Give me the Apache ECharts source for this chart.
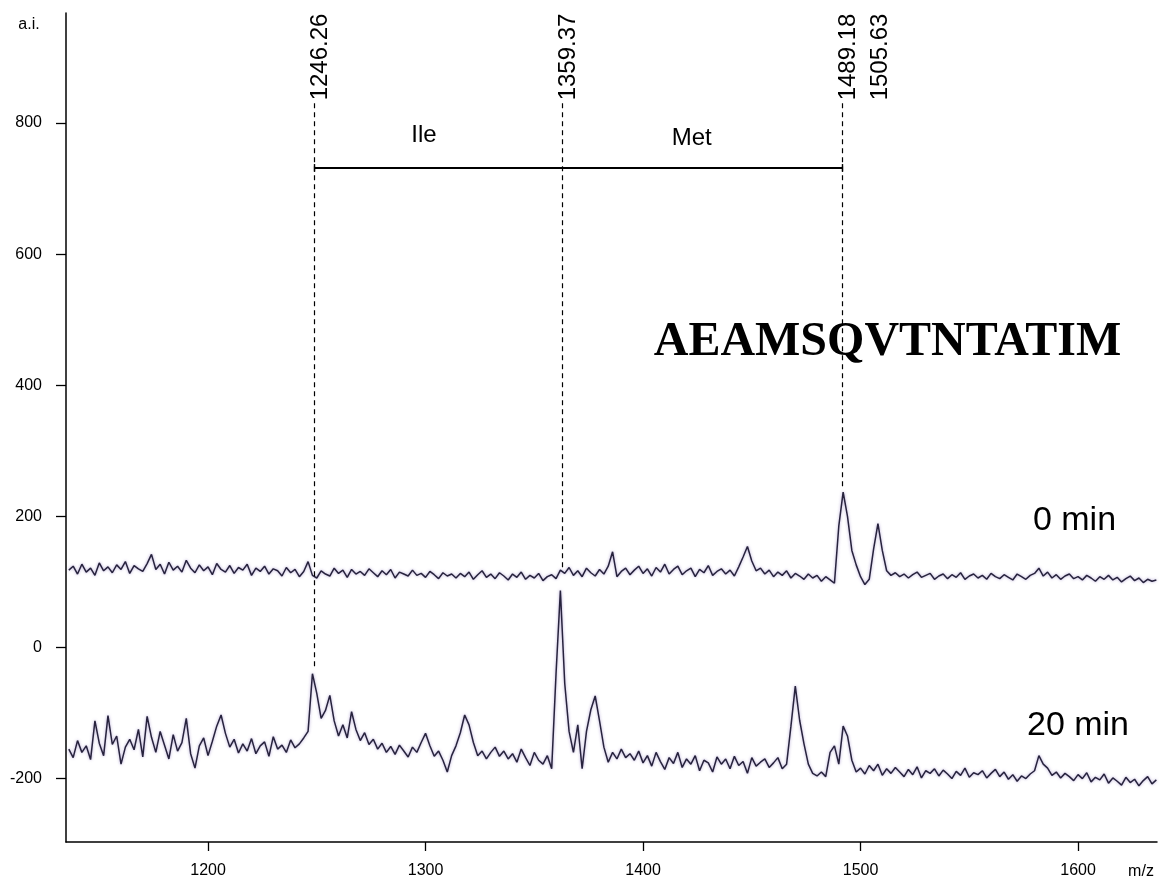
<!DOCTYPE html>
<html>
<head>
<meta charset="utf-8">
<title>AEAMSQVTNTATIM</title>
<script src="https://cdn.jsdelivr.net/npm/echarts@6/dist/echarts.min.js"></script>
<style>
html, body { margin: 0; padding: 0; background: #fff; }
#main { width: 1165px; height: 881px; }
</style>
</head>
<body>
<div id="main"></div>
<script>
// m/z sampling points (read every 2 units)
var mz = [
  1136,1138,1140,1142,1144,1146,1148,1150,1152,1154,
  1156,1158,1160,1162,1164,1166,1168,1170,1172,1174,
  1176,1178,1180,1182,1184,1186,1188,1190,1192,1194,
  1196,1198,1200,1202,1204,1206,1208,1210,1212,1214,
  1216,1218,1220,1222,1224,1226,1228,1230,1232,1234,
  1236,1238,1240,1242,1244,1246,1248,1250,1252,1254,
  1256,1258,1260,1262,1264,1266,1268,1270,1272,1274,
  1276,1278,1280,1282,1284,1286,1288,1290,1292,1294,
  1296,1298,1300,1302,1304,1306,1308,1310,1312,1314,
  1316,1318,1320,1322,1324,1326,1328,1330,1332,1334,
  1336,1338,1340,1342,1344,1346,1348,1350,1352,1354,
  1356,1358,1360,1362,1364,1366,1368,1370,1372,1374,
  1376,1378,1380,1382,1384,1386,1388,1390,1392,1394,
  1396,1398,1400,1402,1404,1406,1408,1410,1412,1414,
  1416,1418,1420,1422,1424,1426,1428,1430,1432,1434,
  1436,1438,1440,1442,1444,1446,1448,1450,1452,1454,
  1456,1458,1460,1462,1464,1466,1468,1470,1472,1474,
  1476,1478,1480,1482,1484,1486,1488,1490,1492,1494,
  1496,1498,1500,1502,1504,1506,1508,1510,1512,1514,
  1516,1518,1520,1522,1524,1526,1528,1530,1532,1534,
  1536,1538,1540,1542,1544,1546,1548,1550,1552,1554,
  1556,1558,1560,1562,1564,1566,1568,1570,1572,1574,
  1576,1578,1580,1582,1584,1586,1588,1590,1592,1594,
  1596,1598,1600,1602,1604,1606,1608,1610,1612,1614,
  1616,1618,1620,1622,1624,1626,1628,1630,1632,1634,
  1636
];

// spectrum at 0 min (a.i.)
var min0 = [
  118,124,112,127,115,121,110,129,117,123,
  114,126,119,131,113,125,120,116,128,142,
  119,127,112,130,118,124,115,133,121,114,
  126,117,123,111,128,119,115,125,113,122,
  118,127,110,121,116,124,112,120,117,109,
  122,114,119,108,116,131,110,106,117,112,
  109,121,113,118,107,119,112,116,110,120,
  114,108,117,111,119,106,115,112,109,118,
  110,113,107,116,111,105,114,109,112,106,
  113,108,115,104,111,117,107,112,105,114,
  109,103,112,107,115,104,110,106,113,102,
  108,111,105,118,113,122,110,117,108,121,
  114,109,119,112,124,146,108,116,121,111,
  118,124,113,120,109,122,115,127,112,119,
  124,111,117,121,108,119,114,125,110,116,
  120,112,118,109,123,138,154,132,117,121,
  112,118,108,115,110,117,106,113,109,104,
  112,106,110,101,108,103,98,185,237,200,
  148,126,108,96,104,150,189,148,117,110,
  114,108,112,106,111,115,107,110,113,104,
  109,112,105,111,107,114,104,109,112,106,
  110,104,113,108,105,111,107,103,112,108,
  104,110,113,121,109,115,106,111,104,109,
  112,105,108,103,110,106,101,108,104,110,
  103,107,100,105,109,102,106,99,104,101,
  103
];

// spectrum at 20 min (a.i., drawn with its own offset)
var min20 = [
  -155,-168,-142,-160,-150,-171,-112,-146,-165,-104,
  -148,-135,-178,-152,-140,-156,-125,-167,-105,-137,
  -160,-128,-149,-170,-133,-158,-145,-108,-162,-184,
  -150,-138,-165,-143,-120,-103,-131,-152,-140,-161,
  -147,-158,-139,-162,-150,-144,-166,-136,-155,-149,
  -160,-141,-153,-147,-138,-128,-40,-70,-108,-96,
  -73,-112,-135,-118,-138,-98,-125,-142,-130,-148,
  -140,-155,-146,-160,-151,-163,-149,-158,-167,-152,
  -160,-145,-131,-150,-166,-158,-172,-190,-165,-150,
  -130,-103,-118,-145,-165,-158,-170,-160,-152,-166,
  -158,-170,-162,-175,-155,-168,-180,-160,-172,-178,
  -165,-185,-40,87,-55,-128,-160,-118,-185,-128,
  -95,-74,-112,-152,-175,-160,-170,-155,-168,-162,
  -172,-158,-176,-165,-181,-160,-174,-186,-168,-177,
  -160,-183,-170,-178,-165,-188,-172,-176,-190,-167,
  -178,-170,-185,-166,-180,-174,-192,-168,-181,-175,
  -170,-183,-176,-168,-185,-178,-120,-59,-111,-147,
  -178,-192,-196,-190,-197,-160,-150,-178,-120,-135,
  -172,-190,-184,-193,-180,-188,-178,-195,-185,-192,
  -183,-190,-197,-186,-194,-182,-199,-188,-192,-185,
  -196,-187,-193,-200,-189,-195,-184,-198,-191,-194,
  -188,-199,-192,-186,-197,-190,-201,-194,-204,-196,
  -200,-193,-188,-165,-178,-184,-195,-190,-199,-192,
  -197,-203,-194,-200,-191,-205,-198,-202,-193,-207,
  -199,-204,-210,-198,-206,-201,-211,-203,-197,-208,
  -202
];

var xTicks = [1200, 1300, 1400, 1500, 1600];
var yTicks = [-200, 0, 200, 400, 600, 800];

// annotated peaks: where the dashed guides stand and where they stop
var peakMz = [1248.8, 1362.9, 1491.7];
var peakTop = 830;
var peakBottom = [-32, 121, 245];
var peakText = ['1246.26', '1359.37', '1489.18', '1505.63'];
var peakTextMz = [1251.5, 1365.6, 1494.4, 1509.3];
var peakTextY = 834.6;

// residue bracket
var bracketY = 731.4;
var residues = ['Ile', 'Met'];
var residueMz = [1299.3, 1422.4];
var residueY = [781, 776];

var chart = echarts.init(document.getElementById('main'));

function pairs(xs, ys) {
    return xs.map(function (x, i) { return [x, ys[i]]; });
}

var guides = peakMz.map(function (x, i) {
    return [{ coord: [x, peakTop] }, { coord: [x, peakBottom[i]] }];
});
guides.push([
    { coord: [peakMz[0], bracketY], lineStyle: { type: 'solid', width: 1.8 } },
    { coord: [peakMz[2], bracketY] }
]);
guides.push([
    { coord: [peakMz[0], bracketY + 6], lineStyle: { type: 'solid', width: 1.4 } },
    { coord: [peakMz[0], bracketY - 6] }
]);
guides.push([
    { coord: [peakMz[2], bracketY + 6], lineStyle: { type: 'solid', width: 1.4 } },
    { coord: [peakMz[2], bracketY - 6] }
]);

var font = 'Liberation Sans';

var traceStyle = {
    color: '#27233d',
    width: 1.5,
    shadowColor: 'rgba(140, 120, 190, 0.7)',
    shadowBlur: 3
};

var textLabel = {
    show: true,
    position: 'inside',
    fontSize: 24,
    color: '#000',
    opacity: 1,
    textBorderWidth: 0,
    fontFamily: font
};

var option = {
    animation: false,
    backgroundColor: '#fff',
    grid: { left: 66, right: 8, top: 13, bottom: 39 },
    xAxis: {
        type: 'value',
        min: 1134.7,
        max: 1636.3,
        axisLine: { show: true, onZero: false, lineStyle: { color: '#000', width: 1.5 } },
        axisTick: { show: true, customValues: xTicks, length: 9, lineStyle: { color: '#000', width: 1.3 } },
        axisLabel: {
            customValues: xTicks, margin: 21, fontSize: 16, color: '#000', fontFamily: font,
            formatter: function (v) { return String(v); }
        },
        splitLine: { show: false }
    },
    yAxis: {
        type: 'value',
        min: -296.7,
        max: 967.8,
        axisLine: { show: true, onZero: false, lineStyle: { color: '#000', width: 1.5 } },
        axisTick: { show: true, customValues: yTicks, length: 10, lineStyle: { color: '#000', width: 1.3 } },
        axisLabel: {
            customValues: yTicks, margin: 24, fontSize: 16, color: '#000', fontFamily: font,
            formatter: function (v) { return String(v); }
        },
        splitLine: { show: false }
    },
    series: [
        {
            name: '0 min',
            type: 'line',
            data: pairs(mz, min0),
            showSymbol: false,
            lineStyle: traceStyle,
            markLine: {
                silent: true,
                symbol: ['none', 'none'],
                label: { show: false },
                lineStyle: { color: '#000', type: [5, 4], width: 1.2, shadowBlur: 0 },
                data: guides
            }
        },
        {
            name: '20 min',
            type: 'line',
            data: pairs(mz, min20),
            showSymbol: false,
            lineStyle: traceStyle
        },
        {
            name: 'peak labels',
            type: 'scatter',
            silent: true,
            symbolSize: 0,
            itemStyle: { color: '#000' },
            data: pairs(peakTextMz, peakTextMz.map(function () { return peakTextY; })),
            label: Object.assign({}, textLabel, {
                rotate: 90,
                align: 'left',
                verticalAlign: 'middle',
                formatter: function (p) { return peakText[p.dataIndex]; }
            })
        },
        {
            name: 'residues',
            type: 'scatter',
            silent: true,
            symbolSize: 0,
            itemStyle: { color: '#000' },
            data: pairs(residueMz, residueY),
            label: Object.assign({}, textLabel, {
                formatter: function (p) { return residues[p.dataIndex]; }
            })
        }
    ],
    graphic: [
        { type: 'text', x: 29, y: 25, style: { text: 'a.i.', fontSize: 16, fontFamily: font, fill: '#000', align: 'center', verticalAlign: 'middle' } },
        { type: 'text', x: 1141, y: 872, style: { text: 'm/z', fontSize: 16, fontFamily: font, fill: '#000', align: 'center', verticalAlign: 'middle' } },
        { type: 'text', x: 887.5, y: 343, style: { text: 'AEAMSQVTNTATIM', fontSize: 48, fontWeight: 'bold', fontFamily: 'Liberation Serif', fill: '#000', align: 'center', verticalAlign: 'middle' } },
        { type: 'text', x: 1074.5, y: 521, style: { text: '0 min', fontSize: 34, fontFamily: font, fill: '#000', align: 'center', verticalAlign: 'middle' } },
        { type: 'text', x: 1078, y: 726, style: { text: '20 min', fontSize: 34, fontFamily: font, fill: '#000', align: 'center', verticalAlign: 'middle' } }
    ]
};

chart.setOption(option);

window.addEventListener('resize', function () {
    chart.resize();
});
</script>
</body>
</html>
